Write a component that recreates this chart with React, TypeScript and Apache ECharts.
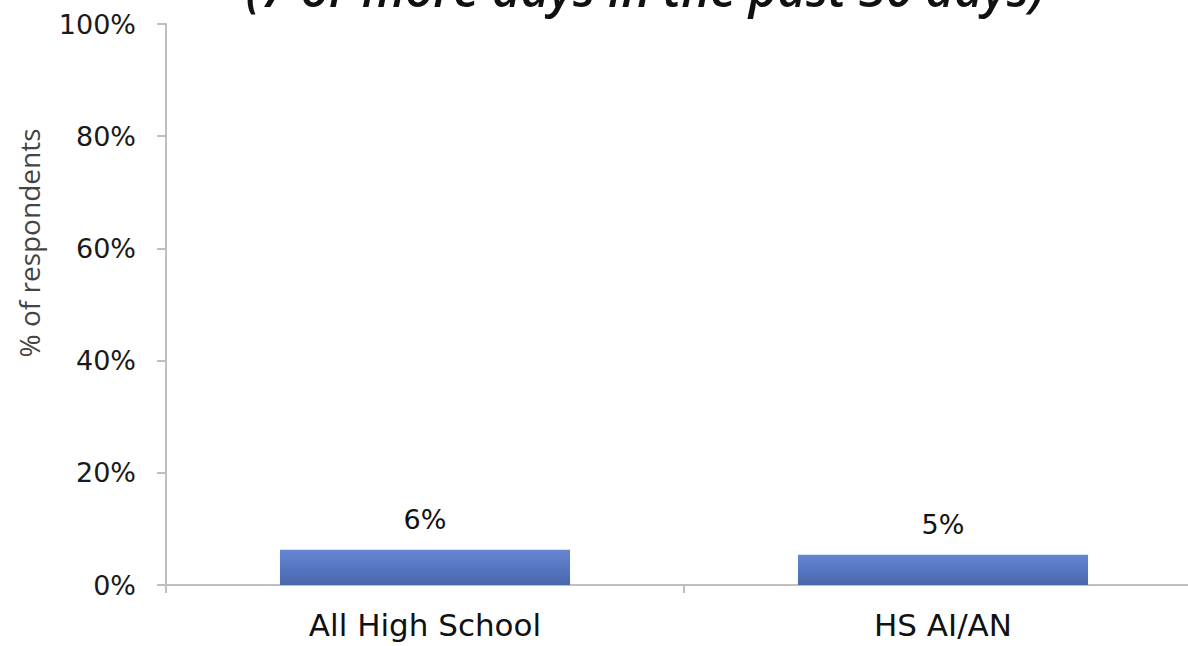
import React, { useEffect, useRef } from "react";
import * as echarts from "echarts";

const categories = ["All High School", "HS AI/AN"];
const values = [6.3, 5.4];
const yTicks = [0, 20, 40, 60, 80, 100];
const titleText = "(7 or more days in the past 30 days)";
const yAxisName = "% of respondents";

export default function App() {
  const ref = useRef<HTMLDivElement>(null);
  useEffect(() => {
    const chart = echarts.init(ref.current!, undefined, { renderer: "svg" });
    chart.setOption({
      animation: false,
      backgroundColor: "#ffffff",
      graphic: [
        {
          type: "text",
          x: 645,
          y: -12,
          style: {
            text: titleText,
            font: "italic 600 49px 'Open Sans'",
            fill: "#111",
            textAlign: "center",
            textVerticalAlign: "middle",
          },
        },
        {
          type: "text",
          x: 29,
          y: 243,
          rotation: Math.PI / 2,
          style: {
            text: yAxisName,
            font: "28px 'Open Sans'",
            fill: "#444",
            textAlign: "center",
            textVerticalAlign: "middle",
          },
        },
      ],
      grid: {
        left: 166,
        width: 1036,
        top: 24,
        bottom: 61,
        containLabel: false,
        outerBoundsMode: "none",
      },
      xAxis: {
        type: "category",
        data: categories,
        axisLine: { lineStyle: { color: "#bfbfbf", width: 2 } },
        axisTick: { show: true, length: 8, lineStyle: { color: "#bfbfbf", width: 2 } },
        axisLabel: { color: "#111", fontSize: 31, fontFamily: "DejaVu Sans", margin: 24 },
      },
      yAxis: {
        type: "value",
        min: yTicks[0],
        max: yTicks[yTicks.length - 1],
        interval: 20,
        axisLine: { show: true, lineStyle: { color: "#bfbfbf", width: 2 } },
        axisTick: { show: true, length: 9, lineStyle: { color: "#bfbfbf", width: 2 } },
        splitLine: { show: false },
        axisLabel: {
          color: "#1a1a1a",
          fontSize: 27,
          fontFamily: "DejaVu Sans",
          margin: 30,
          formatter: (v: number) => `${v}%`,
        },
      },
      series: [
        {
          type: "bar",
          data: values,
          barWidth: "56%",
          itemStyle: {
            color: new echarts.graphic.LinearGradient(0, 0, 0, 1, [
              { offset: 0, color: "#6686d3" },
              { offset: 1, color: "#4a67ad" },
            ]),
          },
          label: {
            show: true,
            position: "top",
            distance: 17,
            color: "#111",
            fontSize: 27,
            fontFamily: "DejaVu Sans",
            formatter: (p: any) => `${Math.round(p.value)}%`,
          },
        },
      ],
    });
    return () => chart.dispose();
  }, []);
  return (
    <div
      ref={ref}
      style={{ position: "absolute", left: 0, top: 0, width: 1188, height: 646 }}
    />
  );
}
